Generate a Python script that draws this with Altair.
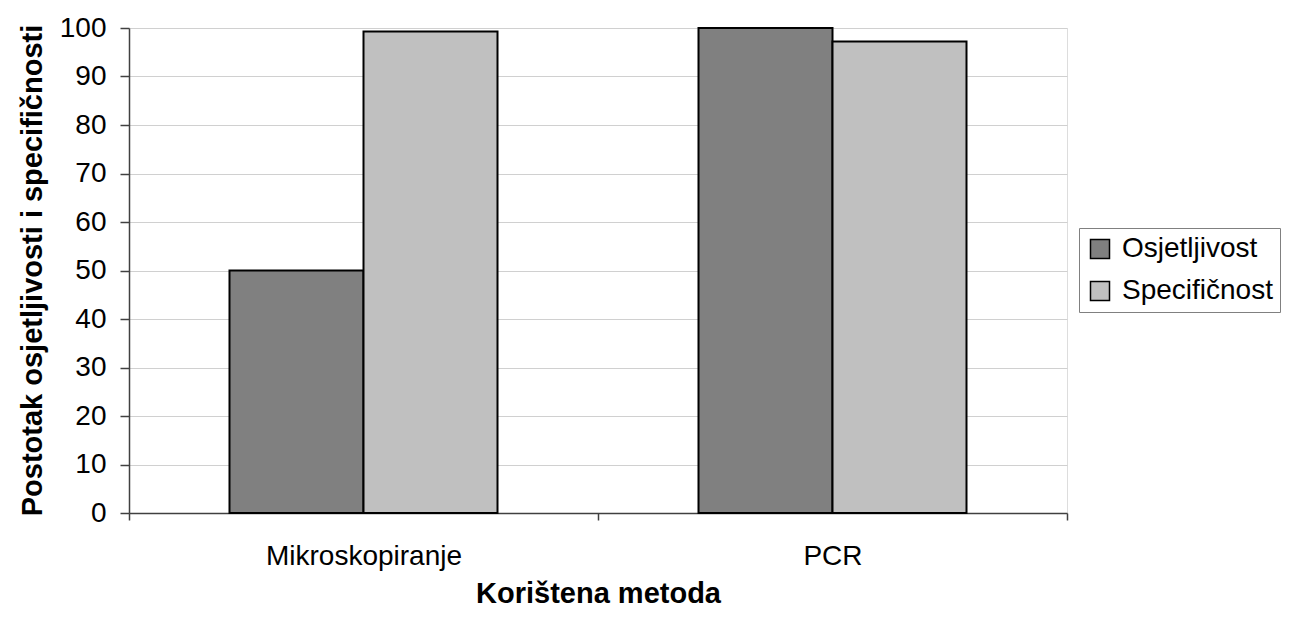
import altair as alt
import pandas as pd

methods = ["Mikroskopiranje", "PCR"]
series = ["Osjetljivost", "Specifičnost"]
osjetljivost = [50, 100]
specificnost = [99.3, 97.2]
colors = ["#808080", "#c0c0c0"]

rows = []
for i, m in enumerate(methods):
    rows.append({"metoda": m, "serija": series[0], "vrijednost": osjetljivost[i]})
    rows.append({"metoda": m, "serija": series[1], "vrijednost": specificnost[i]})
df = pd.DataFrame(rows)

FONT = "Liberation Sans"

chart = alt.Chart(df).mark_bar(stroke="black", strokeWidth=2).encode(
    x=alt.X(
        "metoda:N",
        sort=methods,
        scale=alt.Scale(paddingInner=0, paddingOuter=0),
        axis=alt.Axis(
            title="Korištena metoda",
            labelAngle=0,
            labelLimit=0,
            tickBand="extent",
            tickSize=7,
            tickColor="#404040",
            tickWidth=1.5,
            domainColor="#404040",
            domainWidth=1.5,
            labelFontSize=28,
            labelFont=FONT,
            labelColor="black",
            labelBaseline="alphabetic",
            labelPadding=44,
            titleFont=FONT,
            titleFontSize=29,
            titleFontWeight="bold",
            titleColor="black",
            titleBaseline="alphabetic",
            titleY=89,
            grid=False,
        ),
    ),
    xOffset=alt.XOffset(
        "serija:N",
        sort=series,
        scale=alt.Scale(paddingOuter=0.75, paddingInner=0),
    ),
    y=alt.Y(
        "vrijednost:Q",
        scale=alt.Scale(domain=[0, 100], nice=False),
        axis=alt.Axis(
            title="Postotak osjetljivosti i specifičnosti",
            values=list(range(0, 101, 10)),
            tickSize=9,
            tickColor="#404040",
            tickWidth=1.5,
            domainColor="#404040",
            domainWidth=1.5,
            gridColor="#d0d0d0",
            gridWidth=1,
            labelFontSize=28,
            labelFont=FONT,
            labelColor="black",
            labelPadding=14,
            titleFont=FONT,
            titleFontSize=29,
            titleFontWeight="bold",
            titleColor="black",
            titleBaseline="alphabetic",
            titleAngle=-90,
            titleX=-88,
            titleY=242,
        ),
    ),
    color=alt.Color(
        "serija:N",
        sort=series,
        scale=alt.Scale(domain=series, range=colors),
        legend=alt.Legend(
            title=None,
            orient="none",
            legendX=950,
            legendY=200,
            symbolType="square",
            symbolSize=361,
            symbolStrokeColor="black",
            symbolStrokeWidth=1.5,
            symbolOpacity=1,
            labelFontSize=28,
            labelFont=FONT,
            labelColor="black",
            labelOffset=8,
            labelLimit=0,
            rowPadding=14,
            padding=7,
            strokeColor="#808080",
            fillColor="white",
        ),
    ),
).properties(
    width=938,
    height=485,
    autosize=alt.AutoSizeParams(type="none"),
    padding={"left": 121, "top": 20, "right": 214, "bottom": 96},
).configure_view(
    stroke="#808080", strokeWidth=1.5
).configure(background="white")

chart.save("out.html", embed_options={"renderer": "svg", "actions": False})
